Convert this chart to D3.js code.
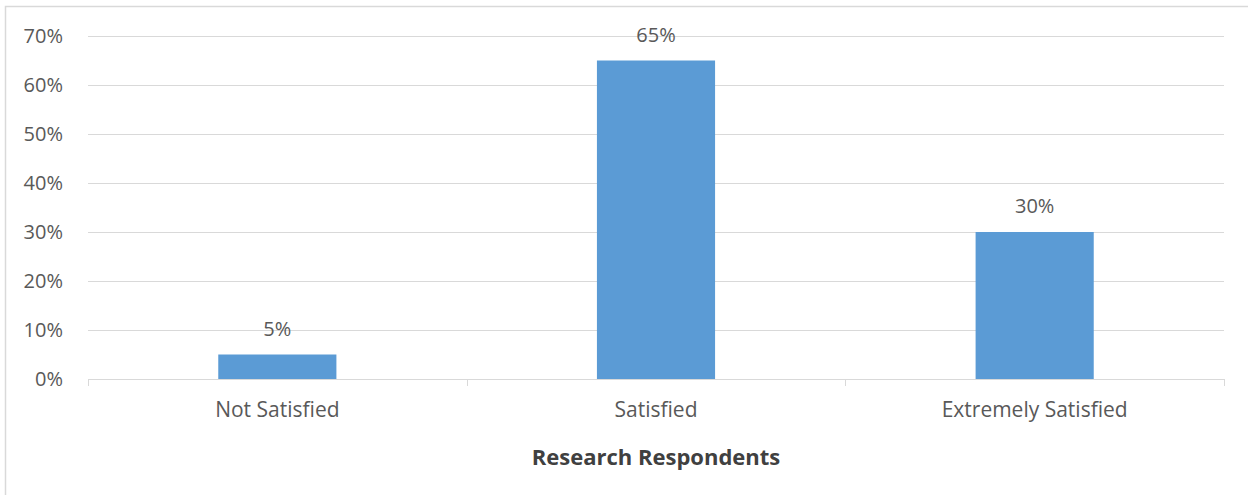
<!DOCTYPE html>
<html>
<head>
<meta charset="utf-8">
<script src="https://cdn.jsdelivr.net/npm/d3@7"></script>
<style>
  body { margin: 0; background: #fff; }
  text { font-family: "Open Sans", sans-serif; fill: #595959; }
</style>
</head>
<body>
<svg width="1248" height="495"></svg>
<script>
var categories = ["Not Satisfied", "Satisfied", "Extremely Satisfied"];
var values = [0.05, 0.65, 0.30];
var yTicks = [0, 0.1, 0.2, 0.3, 0.4, 0.5, 0.6, 0.7];

var svg = d3.select("svg"),
    margin = { top: 36, right: 24, bottom: 116, left: 88 },
    width = +svg.attr("width") - margin.left - margin.right,
    height = +svg.attr("height") - margin.top - margin.bottom;

// chart frame (only top/left edges are inside the picture)
svg.append("rect")
    .attr("x", 5.5).attr("y", 6.5)
    .attr("width", 1300).attr("height", 600)
    .attr("fill", "none")
    .attr("stroke", "#d9d9d9")
    .attr("stroke-width", 1.5);

var g = svg.append("g")
    .attr("transform", "translate(" + margin.left + "," + margin.top + ")");

var x = d3.scaleBand().domain(categories).range([0, width]).paddingInner(0).paddingOuter(0);
var y = d3.scaleLinear().domain([0, 0.7]).range([height, 0]);

// gridlines
g.append("g")
    .selectAll("line")
    .data(yTicks.slice(1))
    .enter().append("line")
    .attr("x1", 0).attr("x2", width)
    .attr("y1", function (d) { return Math.round(y(d)) + 0.5; })
    .attr("y2", function (d) { return Math.round(y(d)) + 0.5; })
    .attr("stroke", "#d9d9d9")
    .attr("stroke-width", 1);

// y axis labels
var yAxis = d3.axisLeft(y).tickValues(yTicks).tickFormat(d3.format(".0%")).tickSize(0).tickPadding(25);
g.append("g")
    .call(yAxis)
    .call(function (a) { a.select(".domain").remove(); })
    .selectAll("text")
    .style("font-size", "20px")
    .attr("fill", "#595959");

// bars
var barW = x.bandwidth() * 0.312;
g.selectAll(".bar")
    .data(values)
    .enter().append("rect")
    .attr("class", "bar")
    .attr("x", function (d, i) { return x(categories[i]) + (x.bandwidth() - barW) / 2; })
    .attr("width", barW)
    .attr("y", function (d) { return y(d); })
    .attr("height", function (d) { return height - y(d); })
    .attr("fill", "#5b9bd5");

// value labels
g.selectAll(".val")
    .data(values)
    .enter().append("text")
    .attr("class", "val")
    .attr("x", function (d, i) { return x(categories[i]) + x.bandwidth() / 2; })
    .attr("y", function (d) { return y(d) - 19; })
    .attr("text-anchor", "middle")
    .style("font-size", "20px")
    .text(function (d) { return d3.format(".0%")(d); });

// x axis
var xAxis = d3.axisBottom(x).tickSize(0).tickPadding(23);
var xa = g.append("g")
    .attr("transform", "translate(0," + height + ")")
    .call(xAxis);
xa.select(".domain").remove();
xa.selectAll("text").style("font-size", "21px").attr("fill", "#595959");

xa.append("line")
    .attr("x1", 0).attr("x2", width)
    .attr("y1", 0.5).attr("y2", 0.5)
    .attr("stroke", "#d9d9d9");

var bounds = categories.map(function (c) { return x(c); }).concat([width]);
xa.selectAll(".sep")
    .data(bounds)
    .enter().append("line")
    .attr("class", "sep")
    .attr("x1", function (d) { return Math.round(d) + 0.5; })
    .attr("x2", function (d) { return Math.round(d) + 0.5; })
    .attr("y1", 0).attr("y2", 7)
    .attr("stroke", "#d9d9d9");

// axis title
svg.append("text")
    .attr("x", margin.left + width / 2)
    .attr("y", 465)
    .attr("text-anchor", "middle")
    .style("font-size", "22px")
    .style("font-weight", "bold")
    .style("fill", "#404040")
    .text("Research Respondents");
</script>
</body>
</html>
